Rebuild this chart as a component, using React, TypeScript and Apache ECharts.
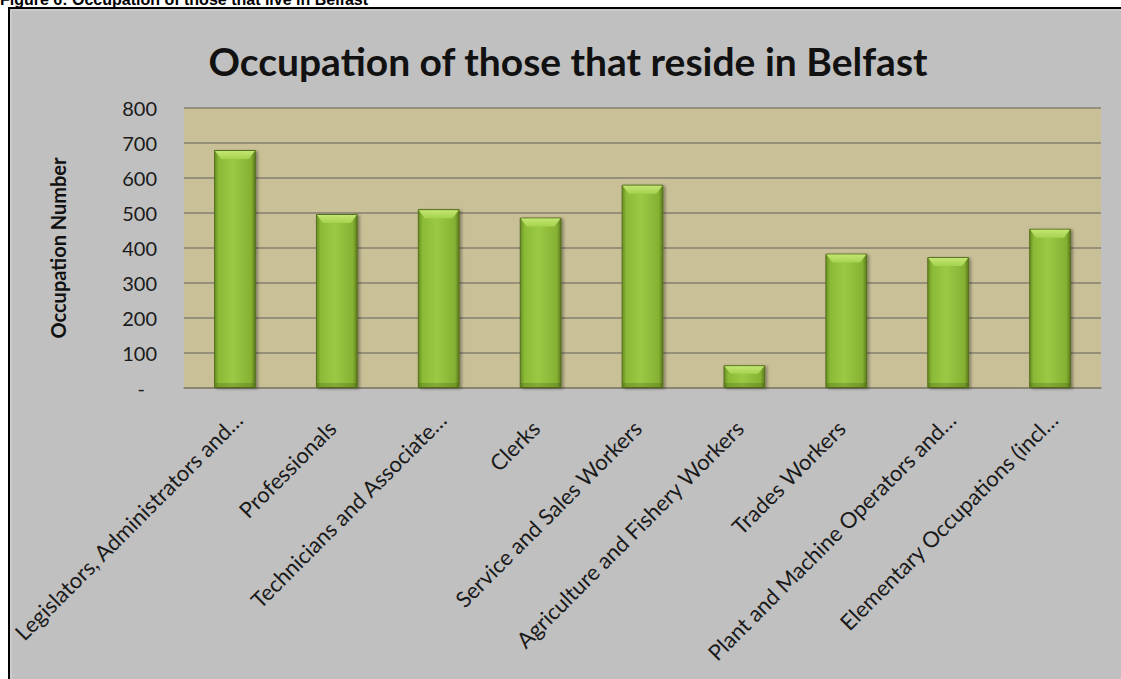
import React, { useEffect, useRef } from "react";
import * as echarts from "echarts";

const caption = "Figure 6: Occupation of those that live in Belfast";
const chartTitle = "Occupation of those that reside in Belfast";
const yAxisTitle = "Occupation Number";
const categories = [
  "Legislators, Administrators and…",
  "Professionals",
  "Technicians and Associate…",
  "Clerks",
  "Service and Sales Workers",
  "Agriculture and Fishery Workers",
  "Trades Workers",
  "Plant and Machine Operators and…",
  "Elementary Occupations (incl…",
];
const values = [680, 497, 511, 487, 581, 65, 384, 374, 455];
const yMin = 0;
const yMax = 800;
const yStep = 100;

export default function App() {
  const ref = useRef<HTMLDivElement>(null);
  useEffect(() => {
    if (!ref.current) return;
    const chart = echarts.init(ref.current, null, { renderer: "svg" });
    const barRatio = 0.41;
    const barGradient = new echarts.graphic.LinearGradient(0, 0, 1, 0, [
      { offset: 0, color: "#678c22" },
      { offset: 0.1, color: "#8aba36" },
      { offset: 0.45, color: "#9bc945" },
      { offset: 0.9, color: "#85b132" },
      { offset: 1, color: "#5a7a1d" },
    ]);
    const labelFont = { fontFamily: "Lato, sans-serif", fontSize: 22, color: "#1a1a1a" };
    chart.setOption({
      animation: false,
      backgroundColor: "#ffffff",
      graphic: [
        {
          type: "rect",
          z: -10,
          shape: { x: 9, y: 8, width: 1140, height: 700 },
          style: { fill: "#c0c0c0", stroke: "#000000", lineWidth: 2 },
        },
        {
          type: "rect",
          z: -9,
          shape: { x: 11, y: 10, width: 1140, height: 700 },
          style: { fill: "none", stroke: "#d6d6d6", lineWidth: 1 },
        },
        {
          type: "text",
          x: 0,
          y: 7,
          style: {
            text: caption,
            font: "bold 16px 'Liberation Sans', Arial, sans-serif",
            fill: "#000000",
            align: "left",
            verticalAlign: "bottom",
          },
        },
        {
          type: "text",
          x: 568,
          y: 61,
          style: {
            text: chartTitle,
            font: "bold 39px Lato, sans-serif",
            fill: "#111111",
            align: "center",
            verticalAlign: "middle",
          },
        },
      ],
      grid: {
        left: 184,
        top: 108,
        width: 917,
        height: 280,
        show: true,
        backgroundColor: "#c9c098",
        borderWidth: 0,
        containLabel: false,
        outerBoundsMode: "none",
      },
      xAxis: {
        type: "category",
        data: categories,
        boundaryGap: true,
        axisTick: { show: false },
        axisLine: { show: true, lineStyle: { color: "#858170", width: 1.5 } },
        axisLabel: {
          interval: 0,
          rotate: 45,
          verticalAlign: "top",
          lineHeight: 26,
          margin: 13,
          ...labelFont,
          formatter: (v: string) => (v.endsWith("…") ? `{e|${v}}` : `{n|${v}}`),
          rich: {
            e: { ...labelFont, padding: [0, 8, 0, 0] },
            n: { ...labelFont, padding: [0, 20, 0, 0] },
          },
        },
      },
      yAxis: {
        type: "value",
        min: yMin,
        max: yMax,
        interval: yStep,
        name: yAxisTitle,
        nameLocation: "middle",
        nameRotate: 90,
        nameGap: 116,
        nameTextStyle: {
          fontFamily: "Lato, sans-serif",
          fontWeight: "bold",
          fontSize: 20,
          color: "#111111",
        },
        axisLine: { show: false },
        axisTick: { show: false },
        splitLine: { show: true, lineStyle: { color: "#858170", width: 1.5 } },
        axisLabel: {
          margin: 27,
          fontFamily: "Lato, sans-serif",
          fontSize: 20,
          color: "#1a1a1a",
          formatter: (v: number) => (v === 0 ? "{d|-}" : String(v)),
          rich: {
            d: {
              fontFamily: "Lato, sans-serif",
              fontSize: 20,
              color: "#1a1a1a",
              padding: [0, 12, 0, 0],
            },
          },
        },
      },
      series: [
        {
          type: "bar",
          data: values,
          barWidth: `${barRatio * 100}%`,
          itemStyle: {
            color: barGradient,
            borderColor: "#55701d",
            borderWidth: 1,
            shadowColor: "rgba(0,0,0,0.35)",
            shadowBlur: 3,
            shadowOffsetX: 2,
            shadowOffsetY: 1,
          },
        },
        {
          type: "custom",
          data: values.map((v, i) => [i, v]),
          z: 3,
          silent: true,
          renderItem: (params: any, api: any) => {
            const idx = api.value(0);
            const val = api.value(1);
            const top = api.coord([idx, val]);
            const base = api.coord([idx, 0]);
            const w = api.size([1, 0])[0] * barRatio;
            const l = top[0] - w / 2 + 1;
            const r = top[0] + w / 2 - 1;
            const t = top[1] + 1;
            const h = Math.min(8, (base[1] - top[1]) / 3);
            return {
              type: "group",
              children: [
                {
                  type: "polygon",
                  shape: {
                    points: [
                      [l, t],
                      [r, t],
                      [r - 6, t + h],
                      [l + 6, t + h],
                    ],
                  },
                  style: {
                    fill: new echarts.graphic.LinearGradient(0, 0, 0, 1, [
                      { offset: 0, color: "#c3e672" },
                      { offset: 1, color: "#a6d24e" },
                    ]),
                  },
                },
                {
                  type: "rect",
                  shape: { x: l, y: base[1] - 5, width: r - l, height: 5 },
                  style: { fill: "rgba(60,80,10,0.25)" },
                },
              ],
            };
          },
        },
      ],
    });
    return () => chart.dispose();
  }, []);
  return (
    <div
      ref={ref}
      style={{ position: "absolute", left: 0, top: 0, width: 1121, height: 679 }}
    />
  );
}
